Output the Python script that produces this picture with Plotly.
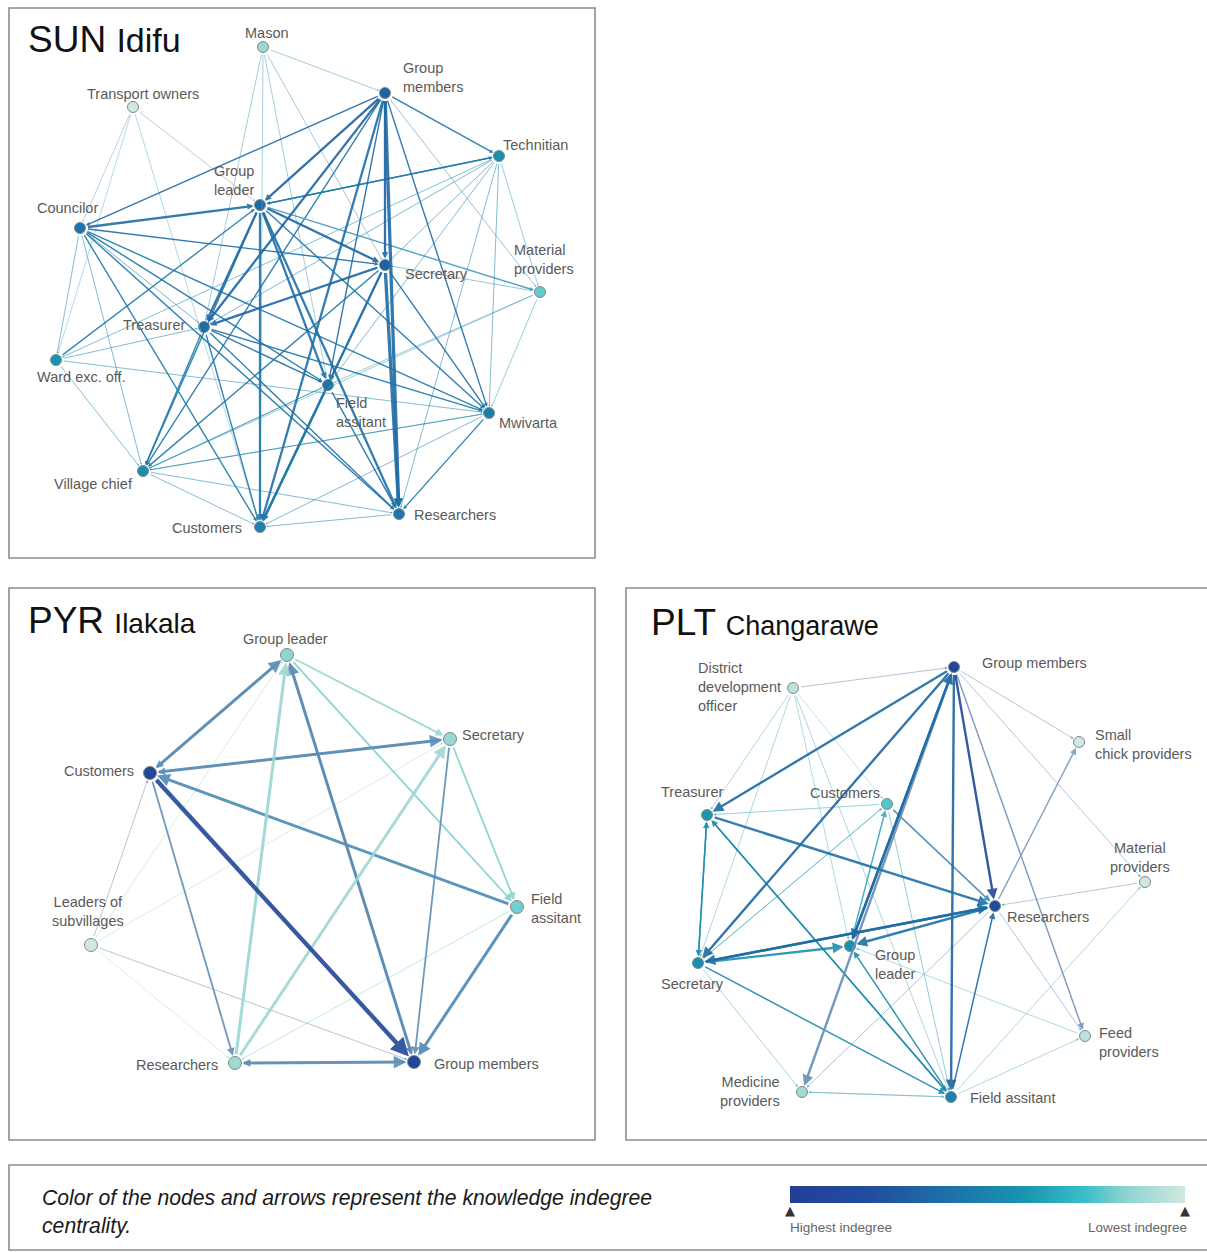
import plotly.graph_objects as go
from plotly.colors import sample_colorscale, unlabel_rgb

W, H = 1207, 1252
FONT = "Liberation Sans"

# Colour scale of knowledge indegree centrality (0 = lowest, 1 = highest)
SCALE = [[0.00, "#d0e8df"], [0.15, "#8ed3d0"], [0.25, "#3bbfc9"],
         [0.40, "#1a96b0"], [0.60, "#1d70a8"], [0.80, "#214d9e"],
         [1.00, "#233f96"]]

# ---------------- SUN - Idifu ----------------
sun_nodes = ["Mason", "Group members", "Transport owners", "Technitian", "Group leader",
             "Councilor", "Secretary", "Material providers", "Treasurer", "Ward exc. off.",
             "Field assitant", "Mwivarta", "Village chief", "Researchers", "Customers"]
sun_x = [263, 385, 133, 499, 260, 80, 385, 540, 204, 56, 328, 489, 143, 399, 260]
sun_y = [47, 93, 107, 156, 205, 228, 265, 292, 327, 360, 385, 413, 471, 514, 527]
sun_indegree = [0.12, 0.70, 0.0, 0.45, 0.64, 0.58, 0.68, 0.2, 0.62, 0.42,
                0.58, 0.53, 0.45, 0.56, 0.50]
sun_labels = ["Mason", "Group<br>members", "Transport owners", "Technitian", "Group<br>leader",
              "Councilor", "Secretary", "Material<br>providers", "Treasurer", "Ward exc. off.",
              "Field<br>assitant", "Mwivarta", "Village chief", "Researchers", "Customers"]
sun_edges = [
    ("Mason", "Group members", 1), ("Group members", "Group leader", 3),
    ("Group members", "Treasurer", 3), ("Group members", "Secretary", 3),
    ("Group members", "Customers", 3), ("Group members", "Researchers", 4),
    ("Group members", "Field assitant", 2), ("Group members", "Mwivarta", 2),
    ("Group members", "Technitian", 2), ("Group members", "Councilor", 2),
    ("Group members", "Material providers", 1), ("Group members", "Village chief", 2),
    ("Councilor", "Group leader", 3), ("Group leader", "Technitian", 2),
    ("Group leader", "Secretary", 3), ("Group leader", "Treasurer", 3),
    ("Group leader", "Customers", 3), ("Group leader", "Researchers", 3),
    ("Group leader", "Field assitant", 3), ("Group leader", "Mwivarta", 2),
    ("Group leader", "Material providers", 2), ("Group leader", "Village chief", 2),
    ("Ward exc. off.", "Group leader", 2),
    ("Secretary", "Treasurer", 3), ("Councilor", "Secretary", 2),
    ("Secretary", "Customers", 3), ("Secretary", "Researchers", 4),
    ("Secretary", "Mwivarta", 2), ("Secretary", "Field assitant", 2),
    ("Secretary", "Village chief", 2), ("Technitian", "Secretary", 1),
    ("Mason", "Secretary", 1), ("Material providers", "Secretary", 1),
    ("Treasurer", "Field assitant", 2), ("Treasurer", "Mwivarta", 2),
    ("Treasurer", "Researchers", 2), ("Treasurer", "Customers", 2),
    ("Treasurer", "Village chief", 2), ("Ward exc. off.", "Treasurer", 1),
    ("Councilor", "Treasurer", 1), ("Technitian", "Treasurer", 1),
    ("Councilor", "Field assitant", 2), ("Councilor", "Mwivarta", 2),
    ("Councilor", "Customers", 2), ("Councilor", "Village chief", 1),
    ("Councilor", "Ward exc. off.", 1), ("Councilor", "Researchers", 2),
    ("Mwivarta", "Customers", 1), ("Mwivarta", "Village chief", 1),
    ("Mwivarta", "Researchers", 2), ("Material providers", "Mwivarta", 1),
    ("Technitian", "Mwivarta", 1), ("Ward exc. off.", "Mwivarta", 1),
    ("Researchers", "Customers", 1), ("Village chief", "Researchers", 1),
    ("Field assitant", "Researchers", 2), ("Field assitant", "Customers", 3),
    ("Field assitant", "Village chief", 1), ("Village chief", "Customers", 1),
    ("Ward exc. off.", "Village chief", 1), ("Village chief", "Mwivarta", 1),
    ("Village chief", "Field assitant", 1),
    ("Transport owners", "Councilor", 1), ("Transport owners", "Group leader", 1),
    ("Transport owners", "Customers", 1), ("Transport owners", "Ward exc. off.", 1),
    ("Mason", "Treasurer", 1), ("Mason", "Customers", 1), ("Mason", "Field assitant", 1),
    ("Technitian", "Group leader", 2), ("Technitian", "Ward exc. off.", 1),
    ("Technitian", "Researchers", 1), ("Technitian", "Material providers", 1),
    ("Technitian", "Field assitant", 1),
    ("Material providers", "Village chief", 1), ("Material providers", "Field assitant", 1),
]

# ---------------- PYR - Ilakala ----------------
pyr_nodes = ["Group leader", "Secretary", "Customers", "Field assitant",
             "Leaders of subvillages", "Researchers", "Group members"]
pyr_x = [287, 450, 150, 517, 91, 235, 414]
pyr_y = [655, 739, 773, 907, 945, 1063, 1062]
pyr_indegree = [0.14, 0.12, 0.90, 0.18, 0.0, 0.11, 0.92]
pyr_labels = ["Group leader", "Secretary", "Customers", "Field<br>assitant",
              "Leaders of<br>subvillages", "Researchers", "Group members"]
pyr_edges = [
    ("Customers", "Group members", 4), ("Customers", "Group leader", 3),
    ("Group leader", "Customers", 2), ("Customers", "Secretary", 3),
    ("Secretary", "Customers", 2), ("Field assitant", "Customers", 3),
    ("Group members", "Group leader", 3), ("Group leader", "Group members", 2),
    ("Researchers", "Group leader", 3), ("Researchers", "Secretary", 3),
    ("Group leader", "Secretary", 2), ("Group leader", "Field assitant", 2),
    ("Secretary", "Field assitant", 2), ("Secretary", "Group members", 2),
    ("Field assitant", "Group members", 3), ("Field assitant", "Researchers", 1),
    ("Customers", "Researchers", 2), ("Researchers", "Group members", 3),
    ("Group members", "Researchers", 2),
    ("Leaders of subvillages", "Customers", 1), ("Leaders of subvillages", "Group leader", 1),
    ("Leaders of subvillages", "Secretary", 1), ("Leaders of subvillages", "Group members", 1),
    ("Leaders of subvillages", "Researchers", 1),
]

# ---------------- PLT - Changarawe ----------------
plt_nodes = ["Group members", "District development officer", "Small chick providers",
             "Treasurer", "Customers", "Material providers", "Researchers", "Group leader",
             "Secretary", "Feed providers", "Medicine providers", "Field assitant"]
plt_x = [954, 793, 1079, 707, 887, 1145, 995, 850, 698, 1085, 802, 951]
plt_y = [667, 688, 742, 815, 804, 882, 906, 946, 963, 1036, 1092, 1097]
plt_indegree = [0.95, 0.04, 0.0, 0.40, 0.22, 0.0, 0.80, 0.42, 0.45, 0.04, 0.10, 0.50]
plt_labels = ["Group members", "District<br>development<br>officer", "Small<br>chick providers",
              "Treasurer", "Customers", "Material<br>providers", "Researchers", "Group<br>leader",
              "Secretary", "Feed<br>providers", "Medicine<br>providers", "Field assitant"]
plt_edges = [
    ("Group members", "Treasurer", 3), ("Group members", "Secretary", 3),
    ("Group members", "Group leader", 3), ("Group members", "Medicine providers", 3),
    ("Group members", "Field assitant", 3), ("Group members", "Researchers", 3),
    ("Group members", "Feed providers", 2), ("Group members", "Material providers", 1),
    ("Group members", "Small chick providers", 1), ("Group leader", "Group members", 3),
    ("District development officer", "Group members", 1),
    ("District development officer", "Treasurer", 1),
    ("District development officer", "Group leader", 1),
    ("District development officer", "Field assitant", 1),
    ("District development officer", "Customers", 1),
    ("District development officer", "Secretary", 1),
    ("Researchers", "Small chick providers", 2), ("Treasurer", "Researchers", 3),
    ("Treasurer", "Secretary", 2), ("Secretary", "Treasurer", 2),
    ("Treasurer", "Field assitant", 2), ("Customers", "Treasurer", 1),
    ("Researchers", "Secretary", 3), ("Researchers", "Group leader", 3),
    ("Secretary", "Group leader", 3), ("Secretary", "Researchers", 3),
    ("Secretary", "Field assitant", 2), ("Secretary", "Medicine providers", 1),
    ("Secretary", "Customers", 1), ("Field assitant", "Researchers", 2),
    ("Field assitant", "Group leader", 2), ("Field assitant", "Treasurer", 2),
    ("Field assitant", "Medicine providers", 1), ("Field assitant", "Feed providers", 1),
    ("Field assitant", "Material providers", 1), ("Customers", "Researchers", 2),
    ("Customers", "Field assitant", 1), ("Customers", "Secretary", 1),
    ("Researchers", "Medicine providers", 1), ("Researchers", "Feed providers", 1),
    ("Material providers", "Researchers", 1), ("Feed providers", "Group leader", 1),
    ("Group leader", "Customers", 2), ("Medicine providers", "Field assitant", 1),
]

# Label placement: (xanchor, dx, dy) relative to each node
sun_place = [("center", 4, -14), ("left", 16, -15), ("center", 10, -13), ("left", 2, -11),
             ("right", -4, -24), ("center", -13, -20), ("left", 18, 9), ("left", -28, -32),
             ("right", -17, -2), ("center", 25, 17), ("left", 6, 28), ("left", 8, 10),
             ("right", -8, 13), ("left", 13, 1), ("right", -16, 1)]
pyr_place = [("center", -2, -16), ("left", 10, -4), ("right", -14, -2), ("left", 12, 1),
             ("center", -3, -34), ("right", -15, 2), ("left", 18, 2)]
plt_place = [("left", 26, -4), ("left", -97, -1), ("left", 14, 2), ("center", -15, -23),
             ("center", -42, -11), ("center", -5, -25), ("left", 10, 11), ("left", 23, 18),
             ("center", -6, 21), ("left", 12, 6), ("right", -20, -1), ("left", 17, 1)]

panels = [
    dict(ax="", box=(9, 8, 595, 558), title="SUN", sub="Idifu", subsize=34, tpos=(26, 40),
         nodes=sun_nodes, x=sun_x, y=sun_y, c=sun_indegree, labels=sun_labels,
         edges=sun_edges, place=sun_place, size=11, head=0.55, thick=1.0),
    dict(ax="2", box=(9, 588, 595, 1140), title="PYR", sub="Ilakala", subsize=28, tpos=(26, 620),
         nodes=pyr_nodes, x=pyr_x, y=pyr_y, c=pyr_indegree, labels=pyr_labels,
         edges=pyr_edges, place=pyr_place, size=13, head=0.85, thick=1.3),
    dict(ax="3", box=(626, 588, 1210, 1140), title="PLT", sub="Changarawe", subsize=27,
         tpos=(649, 623), nodes=plt_nodes, x=plt_x, y=plt_y, c=plt_indegree,
         labels=plt_labels, edges=plt_edges, place=plt_place, size=11, head=0.9, thick=1.05),
]

WIDTH_OF = {1: 0.6, 2: 1.4, 3: 2.3, 4: 3.3}


def colour(v):
    return unlabel_rgb(sample_colorscale(SCALE, [v])[0])


def mixed(a, b):
    ca, cb = colour(a), colour(b)
    return "rgb(%d,%d,%d)" % tuple(round((p + q) / 2) for p, q in zip(ca, cb))


fig = go.Figure()
annotations = []
shapes = []
layout_axes = {}

for p in panels:
    x0, y0, x1, y1 = p["box"]
    xa, ya = "x" + p["ax"], "y" + p["ax"]
    layout_axes["xaxis" + p["ax"]] = dict(domain=[x0 / W, min(x1 / W, 1)],
                                          range=[x0, min(x1, W)],
                                          visible=False, fixedrange=True)
    layout_axes["yaxis" + p["ax"]] = dict(domain=[1 - y1 / H, 1 - y0 / H], range=[y1, y0],
                                          visible=False, fixedrange=True)
    shapes.append(dict(type="rect", xref="paper", yref="paper", x0=x0 / W, x1=x1 / W,
                       y0=1 - y1 / H, y1=1 - y0 / H,
                       line=dict(color="#8c8c8c", width=1.6), fillcolor="rgba(0,0,0,0)"))

    idx = {n: i for i, n in enumerate(p["nodes"])}
    r = p["size"] / 2 + 1
    for s, t, w in sorted(p["edges"], key=lambda e: e[2]):
        i, j = idx[s], idx[t]
        lw = WIDTH_OF[w] * (p["thick"] if w > 1 else 1.0)
        annotations.append(dict(
            xref=xa, yref=ya, axref=xa, ayref=ya,
            x=p["x"][j], y=p["y"][j], ax=p["x"][i], ay=p["y"][i],
            text="", showarrow=True, arrowhead=2, arrowsize=p["head"],
            arrowwidth=lw, arrowcolor=mixed(p["c"][i], p["c"][j]),
            standoff=r, startstandoff=r, opacity=0.9))

    fig.add_trace(go.Scatter(
        x=p["x"], y=p["y"], xaxis=xa, yaxis=ya, mode="markers",
        hovertext=p["nodes"], hoverinfo="text", showlegend=False,
        marker=dict(size=p["size"], color=p["c"], colorscale=SCALE, cmin=0, cmax=1,
                    line=dict(color="#7d8a8a", width=1))))

    for k, lab in enumerate(p["labels"]):
        anchor, dx, dy = p["place"][k]
        annotations.append(dict(
            xref=xa, yref=ya, x=p["x"][k], y=p["y"][k], text=lab, showarrow=False,
            xanchor=anchor, yanchor="middle", xshift=dx, yshift=-dy, align=anchor,
            font=dict(family=FONT, size=14.5, color="#5a5a5a")))

    tx, ty = p["tpos"]
    annotations.append(dict(
        xref="paper", yref="paper", x=tx / W, y=1 - ty / H, xanchor="left", yanchor="middle",
        showarrow=False,
        text="%s <span style='font-size:%dpx'>%s</span>" % (p["title"], p["subsize"], p["sub"]),
        font=dict(family=FONT, size=37, color="#111111")))

# Legend box with colour bar
shapes.append(dict(type="rect", xref="paper", yref="paper", x0=9 / W, x1=1.01,
                   y0=1 - 1250 / H, y1=1 - 1165 / H,
                   line=dict(color="#8c8c8c", width=1.6), fillcolor="rgba(0,0,0,0)"))

fig.add_trace(go.Scatter(
    x=[None, None], y=[None, None], mode="markers", showlegend=False, hoverinfo="skip",
    marker=dict(color=[0, 1], cmin=0, cmax=1, reversescale=True, colorscale=SCALE,
                showscale=True,
                colorbar=dict(orientation="h", x=(790 + 1185) / 2 / W, xanchor="center",
                              y=1 - 1186 / H, yanchor="top", len=395, lenmode="pixels",
                              thickness=17, outlinewidth=0, showticklabels=False,
                              ticks="", xpad=0, ypad=0))))

annotations += [
    dict(xref="paper", yref="paper", x=40 / W, y=1 - 1212 / H, xanchor="left", yanchor="middle",
         align="left", showarrow=False,
         text="<i>Color of the nodes and arrows represent the knowledge indegree<br>centrality.</i>",
         font=dict(family=FONT, size=21.2, color="#1a1a1a")),
    dict(xref="paper", yref="paper", x=790 / W, y=1 - 1210 / H, xanchor="center",
         yanchor="middle", showarrow=False, text="▲",
         font=dict(family="DejaVu Sans", size=13, color="#333333")),
    dict(xref="paper", yref="paper", x=1185 / W, y=1 - 1210 / H, xanchor="center",
         yanchor="middle", showarrow=False, text="▲",
         font=dict(family="DejaVu Sans", size=13, color="#333333")),
    dict(xref="paper", yref="paper", x=841 / W, y=1 - 1227 / H, xanchor="center",
         yanchor="middle", showarrow=False, text="Highest indegree",
         font=dict(family=FONT, size=13.5, color="#666666")),
    dict(xref="paper", yref="paper", x=1137 / W, y=1 - 1227 / H, xanchor="center",
         yanchor="middle", showarrow=False, text="Lowest indegree",
         font=dict(family=FONT, size=13.5, color="#666666")),
]

fig.update_layout(width=W, height=H, margin=dict(l=0, r=0, t=0, b=0),
                  paper_bgcolor="white", plot_bgcolor="white",
                  annotations=annotations, shapes=shapes, **layout_axes)

fig.write_html("out.html")
